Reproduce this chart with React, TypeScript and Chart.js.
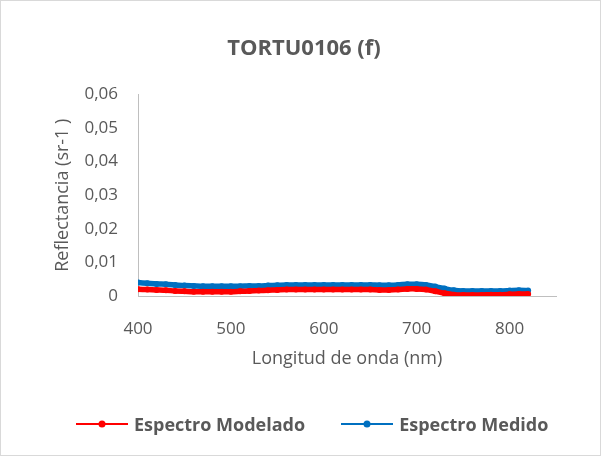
import React, { useEffect, useRef } from "react";
import { Chart, registerables } from "chart.js";

Chart.register(...registerables);

const wavelengths = [400, 410, 420, 430, 440, 450, 460, 470, 480, 490, 500, 510, 520, 530, 540, 550, 560, 570, 580, 590, 600, 610, 620, 630, 640, 650, 660, 670, 680, 690, 700, 710, 720, 730, 740, 750, 760, 770, 780, 790, 800, 810, 820];

const modelado = [0.0020, 0.0019, 0.0018, 0.0017, 0.0015, 0.0014, 0.0013, 0.0013, 0.0013, 0.0013, 0.0013, 0.0014, 0.0015, 0.0016, 0.0017, 0.0018, 0.0019, 0.0019, 0.0019, 0.0019, 0.0019, 0.0019, 0.0019, 0.0019, 0.0019, 0.0019, 0.0018, 0.0018, 0.0019, 0.0021, 0.0021, 0.0019, 0.0014, 0.0008, 0.0004, 0.0003, 0.0003, 0.0003, 0.0004, 0.0004, 0.0005, 0.0006, 0.0006];

const medido = [0.0040, 0.0038, 0.0036, 0.0035, 0.0033, 0.0031, 0.0030, 0.0029, 0.0029, 0.0029, 0.0029, 0.0029, 0.0030, 0.0030, 0.0031, 0.0032, 0.0033, 0.0033, 0.0033, 0.0033, 0.0033, 0.0033, 0.0033, 0.0033, 0.0033, 0.0033, 0.0032, 0.0032, 0.0033, 0.0035, 0.0035, 0.0033, 0.0028, 0.0022, 0.0017, 0.0015, 0.0015, 0.0015, 0.0015, 0.0015, 0.0016, 0.0017, 0.0016];

const seriesNames = ["Espectro Modelado", "Espectro Medido"];
const xTicks = [400, 500, 600, 700, 800];
const yTicks = [0, 0.01, 0.02, 0.03, 0.04, 0.05, 0.06];

const RED = "#FF0000";
const BLUE = "#0070C0";
const COLORS = [RED, BLUE];
const TEXT = "#595959";
const FONT = "'Open Sans', 'Liberation Sans', sans-serif";

function LegendItem({ color, label, gap }: { color: string; label: string; gap: number }) {
  return (
    <div style={{ display: "flex", alignItems: "center", marginRight: gap }}>
      <svg width={52} height={10} style={{ display: "block" }}>
        <line x1={0} y1={5} x2={52} y2={5} stroke={color} strokeWidth={2} />
        <circle cx={26} cy={5} r={3.5} fill={color} />
      </svg>
      <span
        style={{
          marginLeft: 6,
          fontFamily: FONT,
          fontWeight: "bold",
          fontSize: 18,
          color: TEXT,
          lineHeight: "24px",
          whiteSpace: "nowrap",
        }}
      >
        {label}
      </span>
    </div>
  );
}

export default function App() {
  const ref = useRef<HTMLCanvasElement>(null);
  useEffect(() => {
    const chart = new Chart(ref.current!, {
      type: "line",
      data: {
        datasets: [
          {
            label: seriesNames[0],
            data: wavelengths.map((x, i) => ({ x, y: modelado[i] })),
            borderColor: RED,
            backgroundColor: RED,
            borderWidth: 5.5,
            pointRadius: 3,
            pointBorderWidth: 0,
            tension: 0.3,
          },
          {
            label: seriesNames[1],
            data: wavelengths.map((x, i) => ({ x, y: medido[i] })),
            borderColor: BLUE,
            backgroundColor: BLUE,
            borderWidth: 5.5,
            pointRadius: 3,
            pointBorderWidth: 0,
            tension: 0.3,
          },
        ],
      },
      options: {
        responsive: false,
        animation: false,
        layout: { padding: { left: 51, right: 44, top: 18, bottom: 84 } },
        plugins: {
          title: {
            display: true,
            text: "TORTU0106 (f)",
            color: TEXT,
            font: { family: FONT, size: 22, weight: "bold" },
            padding: { top: 17, bottom: 32 },
          },
          legend: { display: false },
          tooltip: { enabled: false },
        },
        scales: {
          x: {
            type: "linear",
            min: 400,
            max: 850,
            afterBuildTicks: (s: any) => {
              s.ticks = xTicks.map((v) => ({ value: v }));
            },
            afterFit: (s: any) => {
              s.height = 75;
            },
            grid: { display: false, drawTicks: false },
            border: { display: true, color: "#BFBFBF", width: 1 },
            ticks: {
              color: TEXT,
              font: { family: FONT, size: 17 },
              padding: 23,
              maxRotation: 0,
              callback: (v: any) => String(v),
            },
            title: {
              display: true,
              text: "Longitud de onda (nm)",
              color: TEXT,
              font: { family: FONT, size: 18 },
              padding: { top: 6, bottom: 1 },
            },
          },
          y: {
            min: 0,
            max: 0.06,
            afterBuildTicks: (s: any) => {
              s.ticks = yTicks.map((v) => ({ value: v }));
            },
            afterFit: (s: any) => {
              s.width = 86;
            },
            grid: { display: false, drawTicks: false },
            border: { display: true, color: "#BFBFBF", width: 1 },
            ticks: {
              color: TEXT,
              font: { family: FONT, size: 17 },
              padding: 20,
              callback: (v: any) => (v === 0 ? "0" : Number(v).toFixed(2).replace(".", ",")),
            },
            title: {
              display: true,
              text: "Reflectancia (sr-1 )",
              color: TEXT,
              font: { family: FONT, size: 18 },
              padding: { top: 0, bottom: 4 },
            },
          },
        },
      },
    } as any);
    return () => chart.destroy();
  }, []);
  return (
    <div
      style={{
        position: "absolute",
        left: 0,
        top: 0,
        width: 601,
        height: 456,
        boxSizing: "border-box",
        border: "1px solid #D9D9D9",
        background: "#fff",
      }}
    >
      <canvas ref={ref} width={599} height={454} style={{ display: "block" }} />
      <div
        style={{
          position: "absolute",
          left: 75,
          top: 411,
          display: "flex",
          alignItems: "center",
        }}
      >
        {seriesNames.map((n, i) => (
          <LegendItem key={n} color={COLORS[i]} label={n} gap={i === 0 ? 36 : 0} />
        ))}
      </div>
    </div>
  );
}
